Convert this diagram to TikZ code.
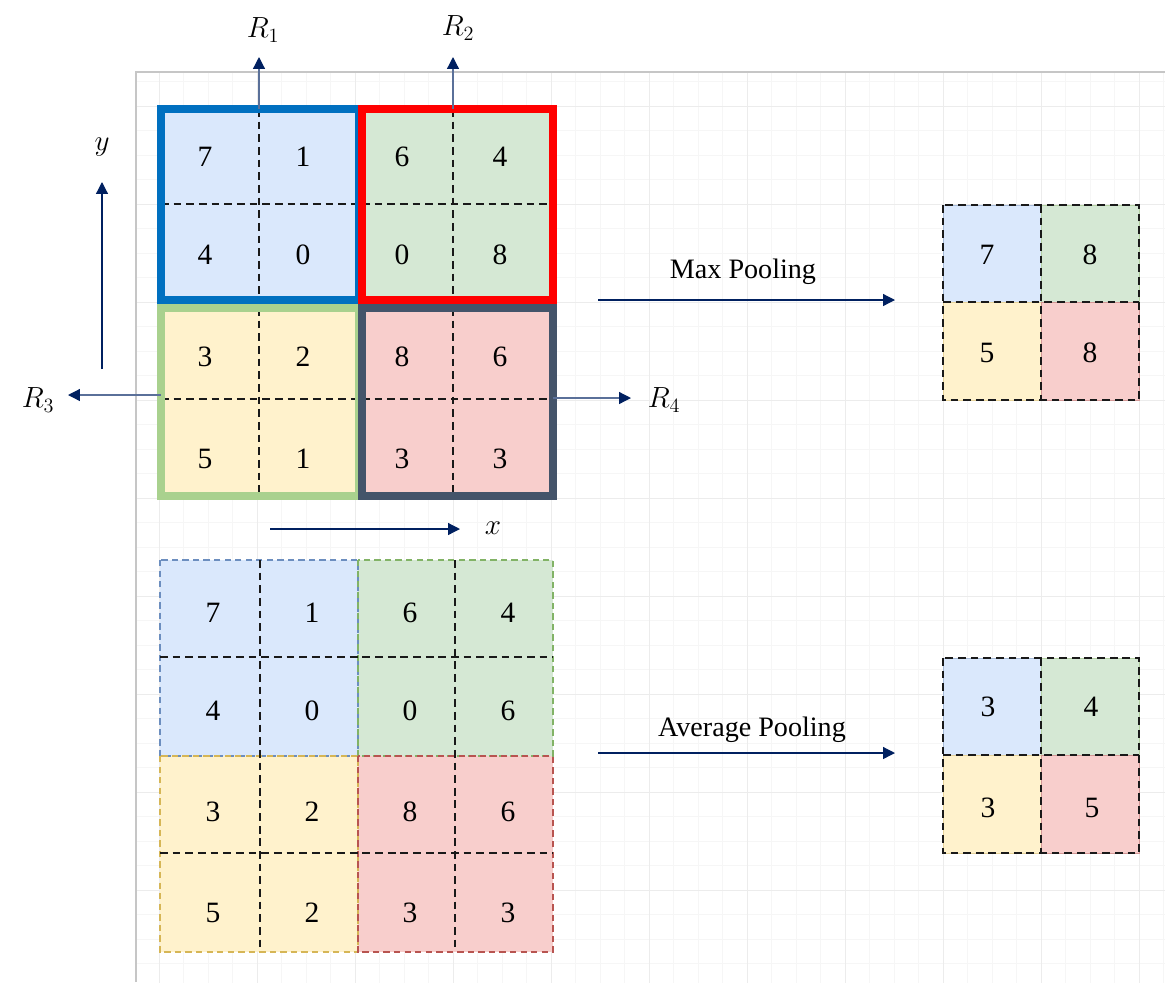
\documentclass[tikz,border=0pt]{standalone}
\usepackage{fontspec}
\setmainfont{Liberation Serif}
\usepackage{xcolor}
\usepackage{tikz}
\usetikzlibrary{arrows.meta}

\definecolor{bluefill}{HTML}{DAE8FC}
\definecolor{greenfill}{HTML}{D5E8D4}
\definecolor{yellowfill}{HTML}{FFF2CC}
\definecolor{redfill}{HTML}{F8CECC}
\definecolor{blueedge}{HTML}{6C8EBF}
\definecolor{greenedge}{HTML}{82B366}
\definecolor{yellowedge}{HTML}{D6B656}
\definecolor{rededge}{HTML}{B85450}
\definecolor{bluebold}{HTML}{0070C0}
\definecolor{redbold}{HTML}{FF0000}
\definecolor{greenbold}{HTML}{A9D18E}
\definecolor{slatebold}{HTML}{44546A}
\definecolor{navy}{HTML}{002060}
\definecolor{paleline}{HTML}{5A7099}
\definecolor{gridminor}{HTML}{F6F6F6}
\definecolor{gridmajor}{HTML}{ECECEC}
\definecolor{pageedge}{HTML}{C6C6C6}

\begin{document}
\begin{tikzpicture}[x=0.025cm, y=-0.025cm,
        cellline/.style={black!90, line width=1.6pt, dash pattern=on 5.5pt off 3.5pt},
        edgedash/.style={line width=1.2pt, dash pattern=on 4.5pt off 3pt},
        boldedge/.style={line width=5.7pt},
        val/.style={font=\fontsize{21}{24}\selectfont},
        lab/.style={font=\fontsize{20}{24}\selectfont},
        mlab/.style={font=\fontsize{22}{26}\selectfont},
        arr/.style={navy, line width=0.9pt, -{Triangle[length=8.5pt, width=8.5pt]}},
        rarr/.style={paleline, line width=0.9pt, -{Triangle[length=8.5pt, width=8.5pt, color=navy]}}]
            \useasboundingbox (0,0) rectangle (1165,982);
            \fill[white] (0,0) rectangle (1165,982);
            
            \begin{scope}
                \clip (136,72) rectangle (1165,982);
                \begin{scope}[shift={(159,106)}]
                    \draw[gridminor, line width=0.6pt, step=0.6125cm] (-30,880) grid (1010,-40);
                    \draw[gridmajor, line width=0.6pt, step=2.45cm] (-30,880) grid (1010,-40);
                \end{scope}
            \end{scope}
            \draw[pageedge, line width=0.8pt] (136,982) -- (136,72) -- (1165,72);
            
            \fill[bluefill]  (161,109) rectangle (359,300);
            \fill[greenfill]  (362,109) rectangle (553,300);
            \fill[yellowfill]  (161,308) rectangle (359,496);
            \fill[redfill]  (362,308) rectangle (553,496);
            \draw[cellline] (259,109) -- (259,300);
            \draw[cellline] (453,109) -- (453,300);
            \draw[cellline] (259,308) -- (259,496);
            \draw[cellline] (453,308) -- (453,496);
            \draw[cellline] (161,204) -- (359,204);
            \draw[cellline] (362,204) -- (553,204);
            \draw[cellline] (161,399) -- (359,399);
            \draw[cellline] (362,399) -- (553,399);
            \draw[bluebold, boldedge]  (161,109) rectangle (359,300);
            \draw[redbold, boldedge]  (362,109) rectangle (553,300);
            \draw[greenbold, boldedge]  (161,308) rectangle (359,496);
            \draw[slatebold, boldedge]  (362,308) rectangle (553,496);
            
            \node[val] (t11) at (205,157) {7};
            \node[val] (t12) at (303,157) {1};
            \node[val] (t13) at (402,157) {6};
            \node[val] (t14) at (500,157) {4};
            \node[val] (t21) at (205,255) {4};
            \node[val] (t22) at (303,255) {0};
            \node[val] (t23) at (402,255) {0};
            \node[val] (t24) at (500,255) {8};
            \node[val] (t31) at (205,357) {3};
            \node[val] (t32) at (303,357) {2};
            \node[val] (t33) at (402,357) {8};
            \node[val] (t34) at (500,357) {6};
            \node[val] (t41) at (205,459) {5};
            \node[val] (t42) at (303,459) {1};
            \node[val] (t43) at (402,459) {3};
            \node[val] (t44) at (500,459) {3};
            
            \node[mlab] (R1) at (263,30) {$R_1$};
            \node[mlab] (R2) at (458,28) {$R_2$};
            \node[mlab] (R3) at (38,400) {$R_3$};
            \node[mlab] (R4) at (664,400) {$R_4$};
            \node[mlab] (ylab) at (102,147) {$y$};
            \node[mlab] (xlab) at (493,528) {$x$};
            \coordinate (r1from) at (259,109);
            \coordinate (r1to) at (259,57);
            \coordinate (r2from) at (453,109);
            \coordinate (r2to) at (453,57);
            \coordinate (r3from) at (161,395);
            \coordinate (r3to) at (68,395);
            \coordinate (r4from) at (553,398);
            \coordinate (r4to) at (631,398);
            \coordinate (yfrom) at (102,369);
            \coordinate (yto) at (102,182);
            \coordinate (xfrom) at (270,529);
            \coordinate (xto) at (460,529);
            \draw[rarr] (r1from) -- (r1to);
            \draw[rarr] (r2from) -- (r2to);
            \draw[rarr] (r3from) -- (r3to);
            \draw[rarr] (r4from) -- (r4to);
            \draw[arr] (yfrom) -- (yto);
            \draw[arr] (xfrom) -- (xto);
            
            \fill[bluefill]  (160,560) rectangle (358,756);
            \fill[greenfill]  (358,560) rectangle (553,756);
            \fill[yellowfill]  (160,756) rectangle (358,952);
            \fill[redfill]  (358,756) rectangle (553,952);
            \draw[blueedge, edgedash]  (160,560) rectangle (358,756);
            \draw[greenedge, edgedash]  (358,560) rectangle (553,756);
            \draw[yellowedge, edgedash]  (160,756) rectangle (358,952);
            \draw[rededge, edgedash]  (358,756) rectangle (553,952);
            \draw[cellline] (260,560) -- (260,952);
            \draw[cellline] (455,560) -- (455,952);
            \draw[cellline] (160,657) -- (553,657);
            \draw[cellline] (160,853) -- (553,853);
            
            \node[val] (b11) at (213,613) {7};
            \node[val] (b12) at (312,613) {1};
            \node[val] (b13) at (410,613) {6};
            \node[val] (b14) at (508,613) {4};
            \node[val] (b21) at (213,711) {4};
            \node[val] (b22) at (312,711) {0};
            \node[val] (b23) at (410,711) {0};
            \node[val] (b24) at (508,711) {6};
            \node[val] (b31) at (213,812) {3};
            \node[val] (b32) at (312,812) {2};
            \node[val] (b33) at (410,812) {8};
            \node[val] (b34) at (508,812) {6};
            \node[val] (b41) at (213,913) {5};
            \node[val] (b42) at (312,913) {2};
            \node[val] (b43) at (410,913) {3};
            \node[val] (b44) at (508,913) {3};
            
            \node[lab] (maxlab) at (743,272) {Max Pooling};
            \coordinate (maxfrom) at (598,300);
            \coordinate (maxto) at (895,300);
            \draw[arr] (maxfrom) -- (maxto);
            \node[lab] (avglab) at (752,730) {Average Pooling};
            \coordinate (avgfrom) at (598,753);
            \coordinate (avgto) at (895,753);
            \draw[arr] (avgfrom) -- (avgto);
            
            \fill[bluefill]  (943,205) rectangle (1041,302);
            \fill[greenfill]  (1041,205) rectangle (1139,302);
            \fill[yellowfill]  (943,302) rectangle (1041,400);
            \fill[redfill]  (1041,302) rectangle (1139,400);
            \draw[blueedge!60, line width=0.5pt]  (943,205) rectangle (1041,302);
            \draw[greenedge!60, line width=0.5pt]  (1041,205) rectangle (1139,302);
            \draw[yellowedge!60, line width=0.5pt]  (943,302) rectangle (1041,400);
            \draw[rededge!60, line width=0.5pt]  (1041,302) rectangle (1139,400);
            \draw[cellline]  (943,205) rectangle (1139,400);
            \draw[cellline]  (1041,205) -- (1041,400);
            \draw[cellline]  (943,302) -- (1139,302);
            \node[val] (m11) at (987,255) {7};
            \node[val] (m12) at (1090,255) {8};
            \node[val] (m21) at (987,353) {5};
            \node[val] (m22) at (1090,353) {8};
            
            \fill[bluefill]  (943,658) rectangle (1041,755);
            \fill[greenfill]  (1041,658) rectangle (1139,755);
            \fill[yellowfill]  (943,755) rectangle (1041,853);
            \fill[redfill]  (1041,755) rectangle (1139,853);
            \draw[blueedge!60, line width=0.5pt]  (943,658) rectangle (1041,755);
            \draw[greenedge!60, line width=0.5pt]  (1041,658) rectangle (1139,755);
            \draw[yellowedge!60, line width=0.5pt]  (943,755) rectangle (1041,853);
            \draw[rededge!60, line width=0.5pt]  (1041,755) rectangle (1139,853);
            \draw[cellline]  (943,658) rectangle (1139,853);
            \draw[cellline]  (1041,658) -- (1041,853);
            \draw[cellline]  (943,755) -- (1139,755);
            \node[val] (a11) at (988,707) {3};
            \node[val] (a12) at (1091,707) {4};
            \node[val] (a21) at (988,808) {3};
            \node[val] (a22) at (1092,808) {5};
        \end{tikzpicture}
\end{document}
